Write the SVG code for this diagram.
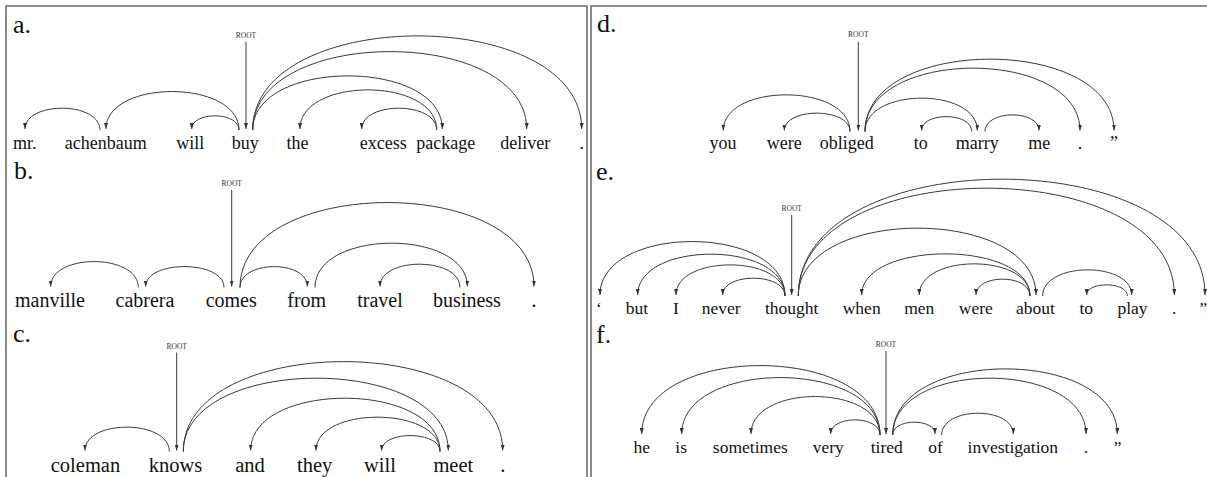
<svg xmlns="http://www.w3.org/2000/svg" width="1207" height="477" viewBox="0 0 1207 477">
<defs>
<marker id="ah" viewBox="0 0 6 4" refX="6" refY="2" markerWidth="6" markerHeight="4" markerUnits="userSpaceOnUse" orient="auto"><path d="M0,0 L6,2 L0,4 z" fill="#333"/></marker>
<style>
.w{font-family:"Liberation Serif","Times New Roman",serif;text-anchor:middle;fill:#111}
.lbl{font-family:"Liberation Serif","Times New Roman",serif;font-size:26px;fill:#111}
.root{font-family:"Liberation Serif","Times New Roman",serif;font-size:7.5px;text-anchor:middle;fill:#333}
.e{fill:none;stroke:#3a3a3a;stroke-width:1;marker-end:url(#ah)}
.frame{fill:none;stroke:#666;stroke-width:1.5}
</style>
</defs>
<rect width="1207" height="477" fill="#fff"/>
<rect class="frame" x="6" y="6" width="581" height="500"/>
<rect class="frame" x="591" y="6" width="630" height="500"/>

<g id="panel-a" font-size="18">
<text class="lbl" x="13" y="33">a.</text>
<g id="a-root"><text class="root" x="246" y="38">ROOT</text></g>
<g id="a-mr"><text class="w" x="24.7" y="149">mr.</text></g>
<g id="a-achenbaum"><text class="w" x="105.8" y="149">achenbaum</text></g>
<g id="a-will"><text class="w" x="190.3" y="149">will</text></g>
<g id="a-buy"><text class="w" x="245.3" y="149">buy</text></g>
<g id="a-the"><text class="w" x="297.5" y="149">the</text></g>
<g id="a-excess"><text class="w" x="383.3" y="149">excess</text></g>
<g id="a-package"><text class="w" x="445.8" y="149">package</text></g>
<g id="a-deliver"><text class="w" x="525.3" y="149">deliver</text></g>
<g id="a-dot"><text class="w" x="581.7" y="149">.</text></g>
</g>

<g id="panel-b" font-size="20">
<text class="lbl" x="14" y="179">b.</text>
<g id="b-root"><text class="root" x="231.7" y="186">ROOT</text></g>
<g id="b-manville"><text class="w" x="50" y="307">manville</text></g>
<g id="b-cabrera"><text class="w" x="145" y="307">cabrera</text></g>
<g id="b-comes"><text class="w" x="231.2" y="307">comes</text></g>
<g id="b-from"><text class="w" x="306.7" y="307">from</text></g>
<g id="b-travel"><text class="w" x="380" y="307">travel</text></g>
<g id="b-business"><text class="w" x="467" y="307">business</text></g>
<g id="b-dot"><text class="w" x="534" y="307">.</text></g>
</g>

<g id="panel-c" font-size="20.5">
<text class="lbl" x="13" y="342">c.</text>
<g id="c-root"><text class="root" x="176.7" y="348.5">ROOT</text></g>
<g id="c-coleman"><text class="w" x="85.5" y="472">coleman</text></g>
<g id="c-knows"><text class="w" x="175.5" y="472">knows</text></g>
<g id="c-and"><text class="w" x="250" y="472">and</text></g>
<g id="c-they"><text class="w" x="314.7" y="472">they</text></g>
<g id="c-will"><text class="w" x="380" y="472">will</text></g>
<g id="c-meet"><text class="w" x="453.3" y="472">meet</text></g>
<g id="c-dot"><text class="w" x="502.7" y="472">.</text></g>
</g>

<g id="panel-d" font-size="18">
<text class="lbl" x="597" y="32">d.</text>
<g id="d-root"><text class="root" x="858.3" y="37">ROOT</text></g>
<g id="d-you"><text class="w" x="723" y="149">you</text></g>
<g id="d-were"><text class="w" x="784.2" y="149">were</text></g>
<g id="d-obliged"><text class="w" x="846.7" y="149">obliged</text></g>
<g id="d-to"><text class="w" x="920.8" y="149">to</text></g>
<g id="d-marry"><text class="w" x="977.2" y="149">marry</text></g>
<g id="d-me"><text class="w" x="1039.2" y="149">me</text></g>
<g id="d-dot"><text class="w" x="1080" y="149">.</text></g>
<g id="d-quote"><text class="w" x="1114" y="149">”</text></g>
</g>

<g id="panel-e" font-size="17.5">
<text class="lbl" x="596" y="180">e.</text>
<g id="e-root"><text class="root" x="791.7" y="211">ROOT</text></g>
<g id="e-open"><text class="w" x="599" y="313.5">‘</text></g>
<g id="e-but"><text class="w" x="637" y="313.5">but</text></g>
<g id="e-I"><text class="w" x="675.8" y="313.5">I</text></g>
<g id="e-never"><text class="w" x="721.2" y="313.5">never</text></g>
<g id="e-thought"><text class="w" x="791.7" y="313.5">thought</text></g>
<g id="e-when"><text class="w" x="861.7" y="313.5">when</text></g>
<g id="e-men"><text class="w" x="919.2" y="313.5">men</text></g>
<g id="e-were"><text class="w" x="975.8" y="313.5">were</text></g>
<g id="e-about"><text class="w" x="1035.5" y="313.5">about</text></g>
<g id="e-to"><text class="w" x="1086.3" y="313.5">to</text></g>
<g id="e-play"><text class="w" x="1132.5" y="313.5">play</text></g>
<g id="e-dot"><text class="w" x="1174.3" y="313.5">.</text></g>
<g id="e-close"><text class="w" x="1203.5" y="313.5">”</text></g>
</g>

<g id="panel-f" font-size="17.5">
<text class="lbl" x="596" y="342.5">f.</text>
<g id="f-root"><text class="root" x="886" y="346.5">ROOT</text></g>
<g id="f-he"><text class="w" x="641.7" y="452.5">he</text></g>
<g id="f-is"><text class="w" x="681.2" y="452.5">is</text></g>
<g id="f-sometimes"><text class="w" x="750.3" y="452.5">sometimes</text></g>
<g id="f-very"><text class="w" x="828.3" y="452.5">very</text></g>
<g id="f-tired"><text class="w" x="886.7" y="452.5">tired</text></g>
<g id="f-of"><text class="w" x="935.5" y="452.5">of</text></g>
<g id="f-investigation"><text class="w" x="1012.8" y="452.5">investigation</text></g>
<g id="f-dot"><text class="w" x="1086" y="452.5">.</text></g>
<g id="f-quote"><text class="w" x="1117.7" y="452.5">”</text></g>
</g>

<g id="connectors">
<g id="edges-a">
<path class="e" d="M246,41.7 L246,129"/>
<path class="e" d="M100,130 C100,101.1 25,101.1 25,129"/>
<path class="e" d="M239,130 C239,78.9 106,78.9 106,129"/>
<path class="e" d="M239,130 C239,111.3 191.7,111.3 191.7,129"/>
<path class="e" d="M436.7,130 C436.7,76.7 300,76.7 300,129"/>
<path class="e" d="M436.7,130 C436.7,101.1 361.7,101.1 361.7,129"/>
<path class="e" d="M252.7,130 C252.7,58 442.3,58 442.3,129"/>
<path class="e" d="M252.7,130 C252.7,25.6 526.7,25.6 526.7,129"/>
<path class="e" d="M252.7,130 C252.7,4.7 581.7,4.7 581.7,129"/>
</g>
<g id="edges-b">
<path class="e" d="M231.7,190 L231.7,286.5"/>
<path class="e" d="M138.3,287.5 C138.3,253.1 50.7,253.1 50.7,286.5"/>
<path class="e" d="M224,287.5 C224,259.8 145.7,259.8 145.7,286.5"/>
<path class="e" d="M240,287.5 C240,259.8 307.3,259.8 307.3,286.5"/>
<path class="e" d="M240,287.5 C240,174.4 534,174.4 534,286.5"/>
<path class="e" d="M315,287.5 C315,228.6 467.3,228.6 467.3,286.5"/>
<path class="e" d="M460,287.5 C460,256.6 380,256.6 380,286.5"/>
</g>
<g id="edges-c">
<path class="e" d="M176.7,352.5 L176.7,450.5"/>
<path class="e" d="M169.3,451.5 C169.3,419.2 85,419.2 85,450.5"/>
<path class="e" d="M183.3,451.5 C183.3,353.9 448.3,353.9 448.3,450.5"/>
<path class="e" d="M183.3,451.5 C183.3,331.8 502.7,331.8 502.7,450.5"/>
<path class="e" d="M440,451.5 C440,380.6 250.7,380.6 250.7,450.5"/>
<path class="e" d="M440,451.5 C440,405.9 316,405.9 316,450.5"/>
<path class="e" d="M440,451.5 C440,430.4 381.7,430.4 381.7,450.5"/>
</g>
<g id="edges-d">
<path class="e" d="M858.3,41.7 L858.3,130.5"/>
<path class="e" d="M850,131.5 C850,82.8 723.3,82.8 723.3,130.5"/>
<path class="e" d="M850,131.5 C850,107.2 784.3,107.2 784.3,130.5"/>
<path class="e" d="M865,131.5 C865,87.2 977.3,87.2 977.3,130.5"/>
<path class="e" d="M865,131.5 C865,47.2 1080,47.2 1080,130.5"/>
<path class="e" d="M865,131.5 C865,35.2 1114,35.2 1114,130.5"/>
<path class="e" d="M971.7,131.5 C971.7,111.8 921.7,111.8 921.7,130.5"/>
<path class="e" d="M985,131.5 C985,109.5 1039,109.5 1039,130.5"/>
</g>
<g id="edges-e">
<path class="e" d="M791.7,215 L791.7,295"/>
<path class="e" d="M785,296 C785,223.6 600,223.6 600,295"/>
<path class="e" d="M785,296 C785,240.4 637.7,240.4 637.7,295"/>
<path class="e" d="M785,296 C785,254.7 676,254.7 676,295"/>
<path class="e" d="M785,296 C785,272.4 722.7,272.4 722.7,295"/>
<path class="e" d="M798.3,296 C798.3,205.7 1036,205.7 1036,295"/>
<path class="e" d="M798.3,296 C798.3,152.4 1174.3,152.4 1174.3,295"/>
<path class="e" d="M798.3,296 C798.3,140.4 1205,140.4 1205,295"/>
<path class="e" d="M1030,296 C1030,240 861.7,240 861.7,295"/>
<path class="e" d="M1030,296 C1030,253.3 919.3,253.3 919.3,295"/>
<path class="e" d="M1030,296 C1030,273.7 976,273.7 976,295"/>
<path class="e" d="M1042.7,296 C1042.7,261.3 1131.7,261.3 1131.7,295"/>
<path class="e" d="M1127.3,296 C1127.3,281.3 1086.7,281.3 1086.7,295"/>
</g>
<g id="edges-f">
<path class="e" d="M886,351 L886,434"/>
<path class="e" d="M880,435 C880,342.6 641.7,342.6 641.7,434"/>
<path class="e" d="M880,435 C880,358.6 681.7,358.6 681.7,434"/>
<path class="e" d="M880,435 C880,383.9 751,383.9 751,434"/>
<path class="e" d="M880,435 C880,415 830.7,415 830.7,434"/>
<path class="e" d="M892.7,435 C892.7,418.1 935,418.1 935,434"/>
<path class="e" d="M892.7,435 C892.7,359.4 1086,359.4 1086,434"/>
<path class="e" d="M892.7,435 C892.7,347 1117.3,347 1117.3,434"/>
<path class="e" d="M941.7,435 C941.7,406.1 1013.3,406.1 1013.3,434"/>
</g>
</g>
</svg>
